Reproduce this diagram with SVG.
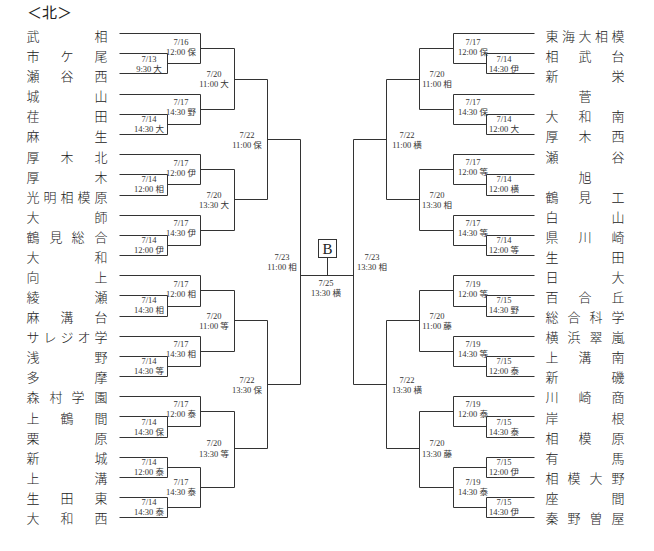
<svg xmlns="http://www.w3.org/2000/svg" width="654" height="551" viewBox="0 0 654 551">
<style>
.n{font-family:"Noto Sans CJK JP",sans-serif;font-size:13px;font-weight:300;fill:#222;text-anchor:middle}
.t{font-family:"Noto Sans CJK JP",sans-serif;font-size:15px;fill:#222}
.m{font-family:"Liberation Serif","Noto Sans CJK JP",serif;font-size:8.5px;fill:#333;text-anchor:middle}
.c{fill:none;stroke:#333;stroke-width:1}
</style>
<rect width="654" height="551" fill="#fff"/>
<text class="t" x="27" y="18">＜北＞</text>
<g id="teams-left">
<g id="L00"><text class="n" x="33 101" y="41">武相</text></g>
<g id="L01"><text class="n" x="33 67 101" y="61.1">市ケ尾</text></g>
<g id="L02"><text class="n" x="33 67 101" y="81.2">瀬谷西</text></g>
<g id="L03"><text class="n" x="33 101" y="101.2">城山</text></g>
<g id="L04"><text class="n" x="33 101" y="121.3">荏田</text></g>
<g id="L05"><text class="n" x="33 101" y="141.4">麻生</text></g>
<g id="L06"><text class="n" x="33 67 101" y="161.5">厚木北</text></g>
<g id="L07"><text class="n" x="33 101" y="181.6">厚木</text></g>
<g id="L08"><text class="n" x="33 50 67 84 101" y="201.6">光明相模原</text></g>
<g id="L09"><text class="n" x="33 101" y="221.7">大師</text></g>
<g id="L10"><text class="n" x="33 56 78 101" y="241.8">鶴見総合</text></g>
<g id="L11"><text class="n" x="33 101" y="261.9">大和</text></g>
<g id="L12"><text class="n" x="33 101" y="282">向上</text></g>
<g id="L13"><text class="n" x="33 101" y="302">綾瀬</text></g>
<g id="L14"><text class="n" x="33 67 101" y="322.1">麻溝台</text></g>
<g id="L15"><text class="n" x="33 50 67 84 101" y="342.2">サレジオ学</text></g>
<g id="L16"><text class="n" x="33 101" y="362.3">浅野</text></g>
<g id="L17"><text class="n" x="33 101" y="382.4">多摩</text></g>
<g id="L18"><text class="n" x="33 56 78 101" y="402.4">森村学園</text></g>
<g id="L19"><text class="n" x="33 67 101" y="422.5">上鶴間</text></g>
<g id="L20"><text class="n" x="33 101" y="442.6">栗原</text></g>
<g id="L21"><text class="n" x="33 101" y="462.7">新城</text></g>
<g id="L22"><text class="n" x="33 101" y="482.8">上溝</text></g>
<g id="L23"><text class="n" x="33 67 101" y="502.8">生田東</text></g>
<g id="L24"><text class="n" x="33 67 101" y="522.9">大和西</text></g>
</g>
<g id="teams-right">
<g id="R00"><text class="n" x="552 568.5 585 601.5 618" y="41">東海大相模</text></g>
<g id="R01"><text class="n" x="552 585 618" y="61.1">相武台</text></g>
<g id="R02"><text class="n" x="552 618" y="81.2">新栄</text></g>
<g id="R03"><text class="n" x="585" y="101.2">菅</text></g>
<g id="R04"><text class="n" x="552 585 618" y="121.3">大和南</text></g>
<g id="R05"><text class="n" x="552 585 618" y="141.4">厚木西</text></g>
<g id="R06"><text class="n" x="552 618" y="161.5">瀬谷</text></g>
<g id="R07"><text class="n" x="585" y="181.6">旭</text></g>
<g id="R08"><text class="n" x="552 585 618" y="201.6">鶴見工</text></g>
<g id="R09"><text class="n" x="552 618" y="221.7">白山</text></g>
<g id="R10"><text class="n" x="552 585 618" y="241.8">県川崎</text></g>
<g id="R11"><text class="n" x="552 618" y="261.9">生田</text></g>
<g id="R12"><text class="n" x="552 618" y="282">日大</text></g>
<g id="R13"><text class="n" x="552 585 618" y="302">百合丘</text></g>
<g id="R14"><text class="n" x="552 574 596 618" y="322.1">総合科学</text></g>
<g id="R15"><text class="n" x="552 574 596 618" y="342.2">横浜翠嵐</text></g>
<g id="R16"><text class="n" x="552 585 618" y="362.3">上溝南</text></g>
<g id="R17"><text class="n" x="552 618" y="382.4">新磯</text></g>
<g id="R18"><text class="n" x="552 585 618" y="402.4">川崎商</text></g>
<g id="R19"><text class="n" x="552 618" y="422.5">岸根</text></g>
<g id="R20"><text class="n" x="552 585 618" y="442.6">相模原</text></g>
<g id="R21"><text class="n" x="552 618" y="462.7">有馬</text></g>
<g id="R22"><text class="n" x="552 574 596 618" y="482.8">相模大野</text></g>
<g id="R23"><text class="n" x="552 618" y="502.8">座間</text></g>
<g id="R24"><text class="n" x="552 574 596 618" y="522.9">秦野曽屋</text></g>
</g>
<g id="connectors" class="c" transform="translate(.5 .5)">
<path d="M119 33H200M119 53H167V73H119M167 63H200M200 33V63M200 48H234
M119 94H200M119 114H167V134H119M167 124H200M200 94V124M200 109H234
M234 48V109M234 79H267
M119 154H200M119 174H167V195H119M167 184H200M200 154V184M200 169H234
M119 215H200M119 235H167V255H119M167 245H200M200 215V245M200 230H234
M234 169V230M234 199H267
M267 79V199M267 139H300
M119 275H200M119 295H167V316H119M167 306H200M200 275V306M200 290H234
M119 336H200M119 356H167V376H119M167 366H200M200 336V366M200 351H234
M234 290V351M234 320H267
M119 396H200M119 416H167V437H119M167 426H200M200 396V426M200 411H234
M119 457H167V477H119M167 467H200M119 497H167V517H119M167 507H200M200 467V507M200 487H234
M234 411V487M234 448H267
M267 320V448M267 384H300
M300 139V384"/>
<path d="M534 33H453M534 53H486V73H534M486 63H453M453 33V63M453 48H419
M534 94H453M534 114H486V134H534M486 124H453M453 94V124M453 109H419
M419 48V109M419 79H386
M534 154H453M534 174H486V195H534M486 184H453M453 154V184M453 169H419
M534 215H453M534 235H486V255H534M486 245H453M453 215V245M453 230H419
M419 169V230M419 199H386
M386 79V199M386 139H353
M534 275H453M534 295H486V316H534M486 306H453M453 275V306M453 290H419
M534 336H453M534 356H486V376H534M486 366H453M453 336V366M453 351H419
M419 290V351M419 320H386
M534 396H453M534 416H486V437H534M486 426H453M453 396V426M453 411H419
M534 457H486V477H534M486 467H453M534 497H486V517H534M486 507H453M453 467V507M453 487H419
M419 411V487M419 448H386
M386 320V448M386 384H353
M353 139V384"/>
<path d="M300 275H353M327 257V275"/>
</g>
<g id="final">
<rect x="318.5" y="239.5" width="18" height="18" fill="#fff" stroke="#333" stroke-width="1"/>
<text x="327.5" y="254" style="font-family:'Liberation Serif',serif;font-size:15px;fill:#222;text-anchor:middle">B</text>
</g>
<g id="match-labels" class="m">
<text x="149" y="62">7/13</text><text x="149" y="72">9:30 大</text>
<text x="149" y="122">7/14</text><text x="149" y="132">14:30 大</text>
<text x="149" y="182">7/14</text><text x="149" y="192">12:00 相</text>
<text x="149" y="243">7/14</text><text x="149" y="253">12:00 伊</text>
<text x="149" y="303">7/14</text><text x="149" y="312.5">14:30 相</text>
<text x="149" y="364">7/14</text><text x="149" y="374">14:30 等</text>
<text x="149" y="425">7/14</text><text x="149" y="434.5">14:30 保</text>
<text x="149" y="465">7/14</text><text x="149" y="474.5">12:00 泰</text>
<text x="149" y="505">7/14</text><text x="149" y="515">14:30 泰</text>
<text x="181" y="45">7/16</text><text x="181" y="54.5">12:00 保</text>
<text x="181" y="105">7/17</text><text x="181" y="115">14:30 野</text>
<text x="181" y="166">7/17</text><text x="181" y="175.5">12:00 伊</text>
<text x="181" y="226">7/17</text><text x="181" y="236">14:30 伊</text>
<text x="181" y="287">7/17</text><text x="181" y="296.5">12:00 相</text>
<text x="181" y="347">7/17</text><text x="181" y="357">14:30 相</text>
<text x="181" y="407">7/17</text><text x="181" y="417">12:00 泰</text>
<text x="181" y="485">7/17</text><text x="181" y="494.5">14:30 泰</text>
<text x="214" y="77">7/20</text><text x="214" y="87">11:00 大</text>
<text x="214" y="198">7/20</text><text x="214" y="207.5">13:30 大</text>
<text x="214" y="319">7/20</text><text x="214" y="328.5">11:00 等</text>
<text x="214" y="446">7/20</text><text x="214" y="457">13:30 等</text>
<text x="247" y="138">7/22</text><text x="247" y="147.5">11:00 保</text>
<text x="247" y="383">7/22</text><text x="247" y="392.5">13:30 保</text>
<text x="282" y="260">7/23</text><text x="282" y="270">11:00 相</text>
<text x="326" y="286">7/25</text><text x="326" y="296">13:30 横</text>
<text x="372" y="260">7/23</text><text x="372" y="270">13:30 相</text>
<text x="407" y="138">7/22</text><text x="407" y="147.5">11:00 横</text>
<text x="407" y="383">7/22</text><text x="407" y="392.5">13:30 横</text>
<text x="437" y="77">7/20</text><text x="437" y="87">11:00 相</text>
<text x="437" y="198">7/20</text><text x="437" y="207.5">13:30 相</text>
<text x="437" y="319">7/20</text><text x="437" y="328.5">11:00 藤</text>
<text x="437" y="446">7/20</text><text x="437" y="457">13:30 藤</text>
<text x="473" y="45">7/17</text><text x="473" y="54.5">12:00 保</text>
<text x="473" y="105">7/17</text><text x="473" y="115">14:30 保</text>
<text x="473" y="165">7/17</text><text x="473" y="175">12:00 等</text>
<text x="473" y="226">7/17</text><text x="473" y="236">14:30 等</text>
<text x="473" y="287">7/19</text><text x="473" y="296.5">12:00 等</text>
<text x="473" y="347">7/19</text><text x="473" y="357">14:30 等</text>
<text x="473" y="407">7/19</text><text x="473" y="417">12:00 泰</text>
<text x="473" y="485">7/19</text><text x="473" y="494.5">14:30 泰</text>
<text x="504" y="62">7/14</text><text x="504" y="72">14:30 伊</text>
<text x="504" y="122">7/14</text><text x="504" y="132">12:00 大</text>
<text x="504" y="182">7/14</text><text x="504" y="192">12:00 横</text>
<text x="504" y="243">7/14</text><text x="504" y="253">12:00 等</text>
<text x="504" y="303">7/15</text><text x="504" y="312.5">14:30 野</text>
<text x="504" y="364">7/15</text><text x="504" y="374">12:00 泰</text>
<text x="504" y="425">7/15</text><text x="504" y="434.5">14:30 泰</text>
<text x="504" y="465">7/15</text><text x="504" y="474.5">12:00 伊</text>
<text x="504" y="505">7/15</text><text x="504" y="515">14:30 伊</text>
</g>
</svg>
